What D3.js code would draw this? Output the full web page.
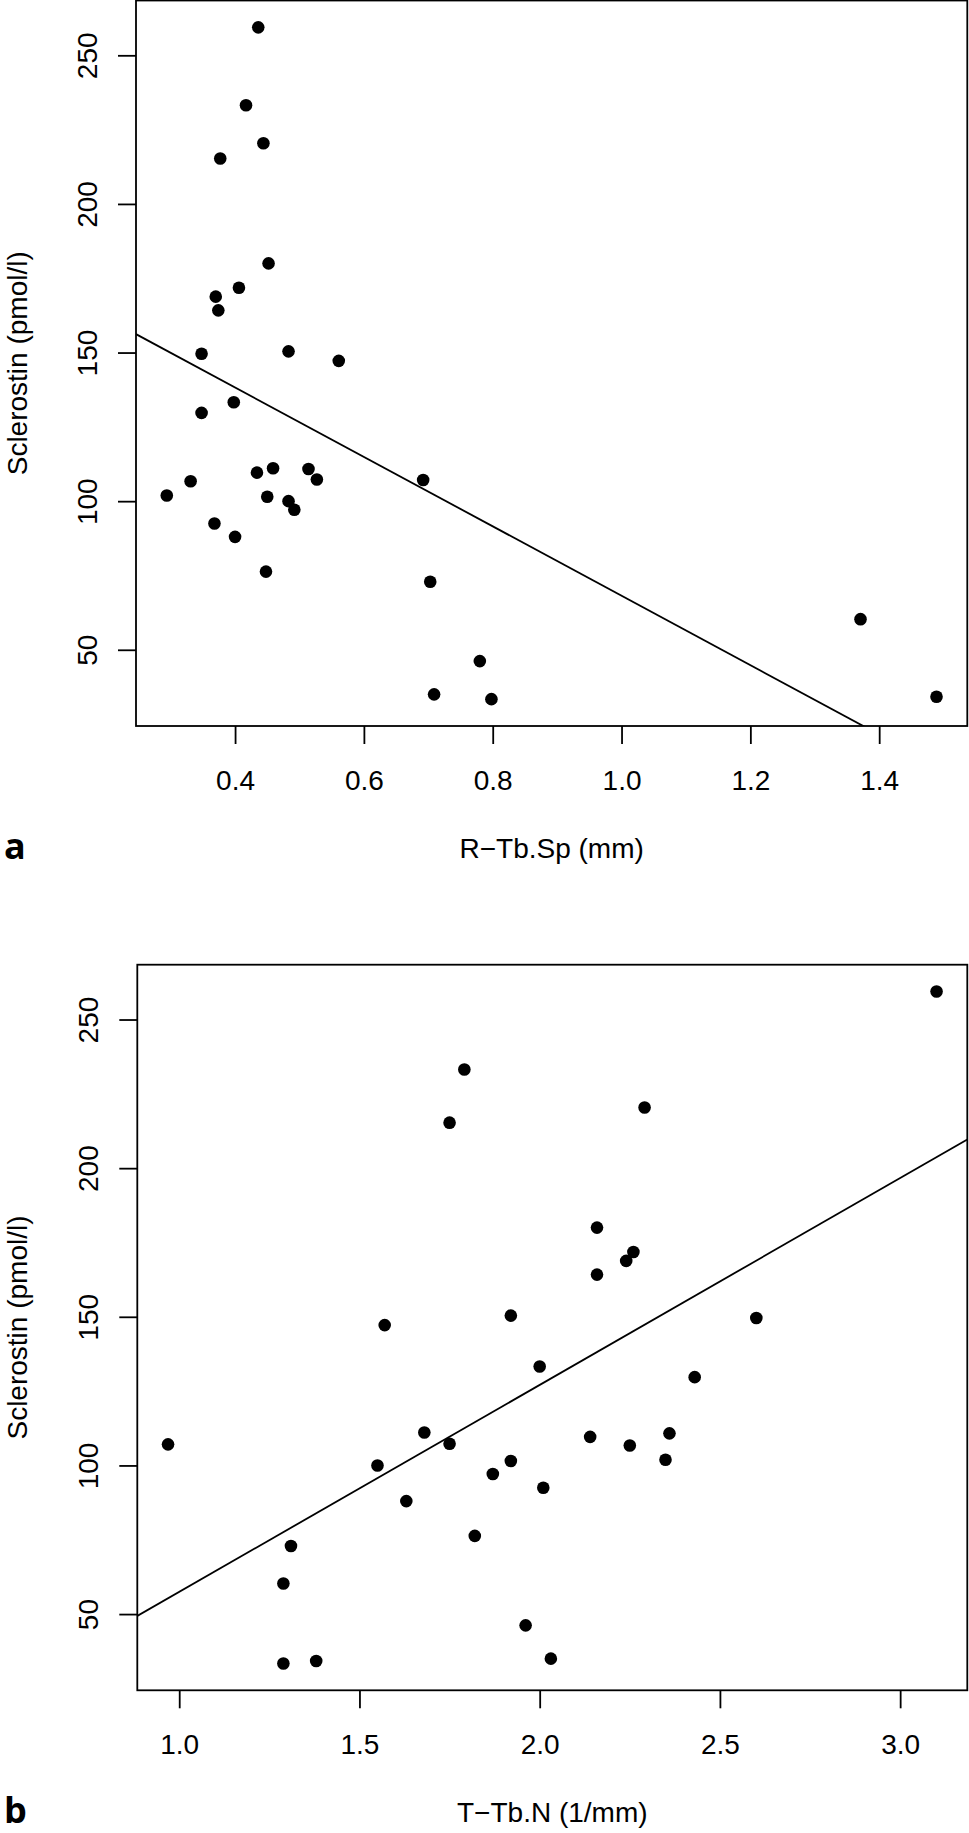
<!DOCTYPE html>
<html>
<head>
<meta charset="utf-8">
<script src="https://cdn.jsdelivr.net/npm/d3@7"></script>
<style>
  html, body { margin: 0; padding: 0; background: #fff; }
  svg { display: block; }
  text { font-family: "Liberation Sans", Arial, Helvetica, sans-serif; fill: #000; }
</style>
</head>
<body>
<svg id="chart" width="969" height="1833"></svg>
<script>
// ---- data ----
const sclerostin = [259.4, 233.2, 220.4, 215.3, 180.0, 171.8, 168.8, 164.2, 150.4, 149.6, 147.2, 133.3, 129.7, 111.1, 110.8, 109.6,
                    107.3, 107.1, 106.7, 101.9, 101.5, 100.0, 97.1, 92.5, 88.0, 76.3, 72.9, 60.3, 46.2, 35.0, 33.4, 34.2];
const rTbSp = [0.436, 0.417, 0.444, 0.377, 0.452, 0.406, 0.370, 0.374, 0.483, 0.348, 0.561, 0.398, 0.348, 0.459, 0.514, 0.434,
               0.527, 0.692, 0.331, 0.294, 0.450, 0.483, 0.492, 0.368, 0.400, 0.448, 0.703, 1.371, 0.780, 0.709, 0.798, 1.489];
const tTbN = [3.101, 1.791, 2.291, 1.750, 2.159, 2.260, 2.240, 2.159, 1.920, 2.601, 1.570, 2.000, 2.430, 1.680, 2.360, 2.140,
              1.750, 0.969, 2.250, 2.349, 1.920, 1.550, 1.870, 2.010, 1.630, 1.820, 1.310, 1.289, 1.961, 2.031, 1.289, 1.380];
const xTicksA = [0.4, 0.6, 0.8, 1.0, 1.2, 1.4];
const xTicksB = [1.0, 1.5, 2.0, 2.5, 3.0];
const yTicks = [50, 100, 150, 200, 250];

const panels = [
  { label: "a", xTitle: "R\u2212Tb.Sp (mm)", xs: rTbSp, xTicks: xTicksA,
    left: 136, right: 967.3, top: 0.5, bottom: 726 },
  { label: "b", xTitle: "T\u2212Tb.N (1/mm)", xs: tTbN, xTicks: xTicksB,
    left: 137.3, right: 967.3, top: 964.7, bottom: 1690.3 }
];

const svg = d3.select("#chart");
const FS = 28;

function padded(ext) {
  const d = (ext[1] - ext[0]) * 0.04;
  return [ext[0] - d, ext[1] + d];
}

function lmFit(xs, ys) {
  const mx = d3.mean(xs), my = d3.mean(ys);
  let sxy = 0, sxx = 0;
  xs.forEach((x, i) => { sxy += (x - mx) * (ys[i] - my); sxx += (x - mx) * (x - mx); });
  const b = sxy / sxx;
  return { a: my - b * mx, b };
}

panels.forEach((p, pi) => {
  const x = d3.scaleLinear().domain(padded(d3.extent(p.xs))).range([p.left, p.right]);
  const y = d3.scaleLinear().domain(padded(d3.extent(sclerostin))).range([p.bottom, p.top]);
  const g = svg.append("g");

  // clip for regression line
  const clipId = "clip" + pi;
  svg.append("clipPath").attr("id", clipId)
    .append("rect").attr("x", p.left).attr("y", p.top)
    .attr("width", p.right - p.left).attr("height", p.bottom - p.top);

  // points
  g.selectAll("circle").data(p.xs.map((v, i) => [v, sclerostin[i]])).join("circle")
    .attr("cx", d => x(d[0])).attr("cy", d => y(d[1])).attr("r", 6.3).attr("fill", "#000");

  // regression line
  const fit = lmFit(p.xs, sclerostin);
  const xd = x.domain();
  g.append("line")
    .attr("clip-path", `url(#${clipId})`)
    .attr("x1", x(xd[0])).attr("y1", y(fit.a + fit.b * xd[0]))
    .attr("x2", x(xd[1])).attr("y2", y(fit.a + fit.b * xd[1]))
    .attr("stroke", "#000").attr("stroke-width", 1.8);

  // box
  g.append("rect").attr("x", p.left).attr("y", p.top)
    .attr("width", p.right - p.left).attr("height", p.bottom - p.top)
    .attr("fill", "none").attr("stroke", "#000").attr("stroke-width", 1.8);

  // x axis
  const gx = g.append("g").attr("transform", `translate(0,${p.bottom})`)
    .call(d3.axisBottom(x).tickValues(p.xTicks).tickFormat(d3.format(".1f")).tickSize(18).tickSizeOuter(0));
  gx.select(".domain").remove();
  gx.selectAll(".tick line").attr("stroke", "#000").attr("stroke-width", 1.8);
  gx.selectAll(".tick text").attr("y", 64).attr("dy", null)
    .style("font-size", FS + "px").style("font-family", "Liberation Sans, Arial, sans-serif").attr("fill", "#000");

  // y axis
  const gy = g.append("g").attr("transform", `translate(${p.left},0)`)
    .call(d3.axisLeft(y).tickValues(yTicks).tickFormat(d3.format("d")).tickSize(18).tickSizeOuter(0));
  gy.select(".domain").remove();
  gy.selectAll(".tick line").attr("stroke", "#000").attr("stroke-width", 1.8);
  gy.selectAll(".tick text").attr("x", null).attr("dy", null)
    .attr("transform", "translate(-39,0) rotate(-90)").attr("text-anchor", "middle")
    .style("font-size", FS + "px").style("font-family", "Liberation Sans, Arial, sans-serif").attr("fill", "#000");

  // titles
  g.append("text").attr("x", (p.left + p.right) / 2).attr("y", p.bottom + 132)
    .attr("text-anchor", "middle").style("font-size", FS + "px").text(p.xTitle);
  g.append("text")
    .attr("transform", `translate(27,${(p.top + p.bottom) / 2}) rotate(-90)`)
    .attr("text-anchor", "middle").style("font-size", FS + "px").text("Sclerostin (pmol/l)");

  // panel label
  g.append("text").attr("x", 4).attr("y", p.bottom + 133)
    .style("font-family", "'Open Sans', 'Noto Sans', sans-serif").style("font-weight", "700")
    .style("font-size", "36px").text(p.label);
});
</script>
</body>
</html>
